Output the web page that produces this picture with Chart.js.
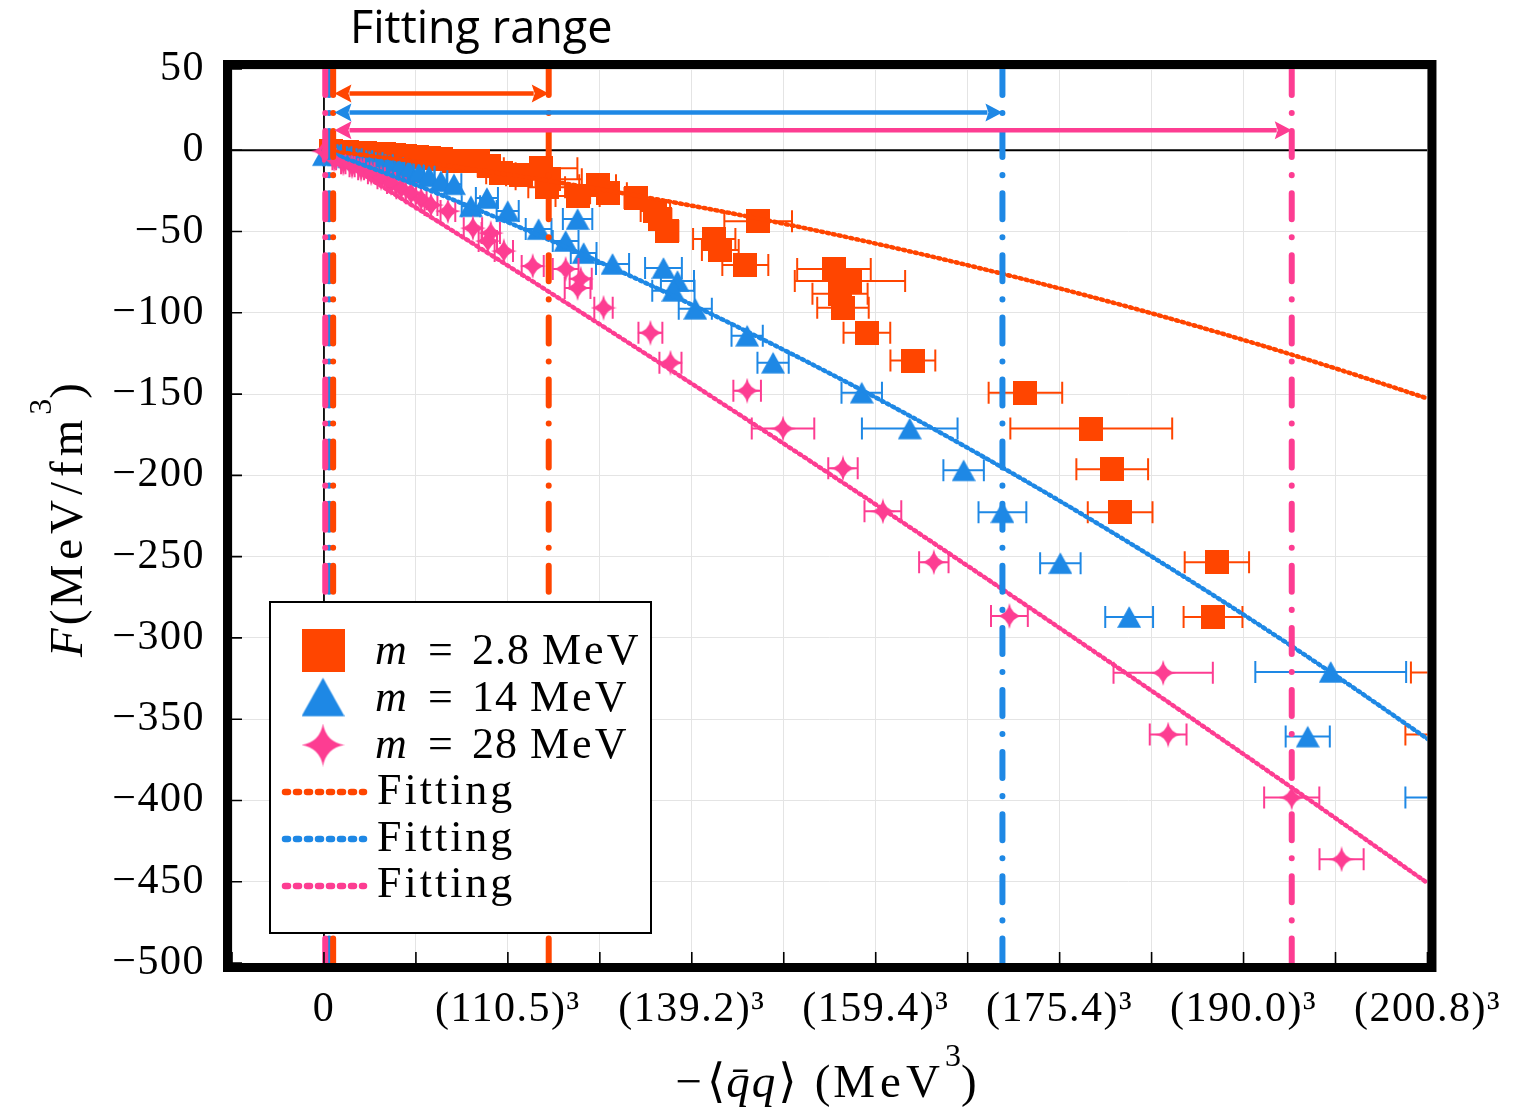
<!DOCTYPE html>
<html>
<head>
<meta charset="utf-8">
<title>F versus chiral condensate</title>
<script src="https://cdn.jsdelivr.net/npm/chart.js@4.4.1/dist/chart.umd.min.js"></script>
<style>
  html, body { margin: 0; padding: 0; background: #fff; }
  #wrap { width: 1517px; height: 1112px; position: relative; }
</style>
</head>
<body>
<div id="wrap"><canvas id="chart" width="1517" height="1112"></canvas></div>
<script>
// ---- axis labels -------------------------------------------------------
// x is measured in steps of the labelled condensate values (one step per label)
const xTickLabels = ['0', '(110.5)\u00B3', '(139.2)\u00B3', '(159.4)\u00B3', '(175.4)\u00B3', '(190.0)\u00B3', '(200.8)\u00B3'];
const seriesLabels = ['m = 2.8 MeV', 'm = 14 MeV', 'm = 28 MeV'];
const fitLabels = ['Fitting', 'Fitting', 'Fitting'];
const seriesColors = ['#ff4500', '#1e88e5', '#fd3d92'];

// ---- m = 2.8 MeV -------------------------------------------------------
const m2p8X = [0.040, 0.083, 0.126, 0.175, 0.224, 0.273, 0.327, 0.381, 0.441, 0.506, 0.571, 0.636, 0.707, 0.837, 0.896,
  0.962, 1.070, 1.178, 1.222, 1.211, 1.379, 1.488, 1.547, 1.694, 1.802, 1.829, 1.867, 2.122, 2.155, 2.291, 2.361,
  2.773, 2.860, 2.806, 2.822, 2.952, 3.202, 3.814, 4.172, 4.286, 4.329, 4.855, 4.834, 6.120, 6.100];
const m2p8Y = [-0.6, -1.2, -1.2, -1.8, -1.8, -2.5, -2.5, -3.1, -3.7, -4.3, -4.9, -5.5, -6.7, -6.7, -9.8,
  -14.1, -15.3, -11.0, -17.8, -22.7, -28.2, -21.5, -26.4, -29.4, -37.4, -42.3, -49.7, -54.6, -61.3, -70.6, -43.6,
  -73.0, -80.4, -88.3, -96.9, -112.3, -129.4, -149.1, -171.2, -196.3, -222.7, -253.4, -287.1, -321.3, -359.5];
const m2p8Err = [0.010, 0.010, 0.012, 0.014, 0.016, 0.018, 0.020, 0.022, 0.025, 0.030, 0.035, 0.040, 0.050, 0.060, 0.060,
  0.080, 0.080, 0.200, 0.180, 0.100, 0.120, 0.100, 0.100, 0.060, 0.080, 0.060, 0.060, 0.115, 0.100, 0.125, 0.184,
  0.200, 0.300, 0.150, 0.140, 0.127, 0.122, 0.200, 0.440, 0.195, 0.176, 0.175, 0.160, 0.210, 0.220];

// ---- m = 14 MeV --------------------------------------------------------
const m14X = [0.000, 0.083, 0.137, 0.191, 0.246, 0.300, 0.354, 0.408, 0.462, 0.516, 0.571, 0.636, 0.707, 0.799, 0.886,
  0.999, 1.167, 1.314, 1.379, 1.412, 1.569, 1.846, 1.922, 1.900, 2.019, 2.301, 2.442, 2.924, 3.185, 3.478, 3.689,
  4.004, 4.378, 5.474, 5.349, 6.200];
const m14Y = [-3.0, -3.1, -4.3, -5.5, -6.7, -8.0, -9.2, -11.0, -12.3, -14.1, -16.0, -19.0, -20.9, -34.4, -29.4,
  -37.4, -48.5, -55.8, -42.3, -63.2, -69.9, -72.4, -80.4, -86.5, -97.5, -114.1, -130.7, -149.1, -171.2, -196.9, -222.7,
  -254.0, -287.1, -320.9, -360.7, -398.2];
const m14Err = [0.005, 0.010, 0.012, 0.014, 0.016, 0.018, 0.020, 0.022, 0.025, 0.028, 0.030, 0.035, 0.040, 0.050, 0.060,
  0.060, 0.070, 0.070, 0.080, 0.070, 0.090, 0.100, 0.090, 0.115, 0.090, 0.085, 0.085, 0.110, 0.260, 0.110, 0.130,
  0.110, 0.130, 0.410, 0.120, 0.320];

// ---- m = 28 MeV --------------------------------------------------------
const m28X = [0.000, 0.056, 0.105, 0.153, 0.202, 0.257, 0.311, 0.365, 0.419, 0.473, 0.528, 0.582, 0.674, 0.810, 0.907,
  0.891, 0.978, 1.135, 1.314, 1.379, 1.396, 1.520, 1.775, 1.884, 2.301, 2.496, 2.822, 3.039, 3.316, 3.727, 4.563,
  4.590, 5.262, 5.533];
const m28Y = [-0.6, -5.5, -8.0, -9.8, -11.7, -14.1, -17.2, -20.2, -23.3, -26.4, -30.1, -33.7, -37.4, -47.9, -50.9,
  -55.8, -62.0, -71.2, -73.0, -84.7, -79.1, -96.9, -112.3, -130.7, -147.9, -171.2, -195.7, -222.1, -253.4, -286.5, -321.5,
  -359.5, -398.2, -436.2];
const m28Err = [0.005, 0.010, 0.012, 0.014, 0.016, 0.018, 0.020, 0.022, 0.025, 0.028, 0.030, 0.035, 0.040, 0.050, 0.050,
  0.050, 0.050, 0.060, 0.070, 0.070, 0.060, 0.050, 0.065, 0.060, 0.075, 0.170, 0.080, 0.100, 0.080, 0.100, 0.270,
  0.100, 0.150, 0.120];

// ---- fitted curves, sampled on the half-step grid ----------------------
const fitX = [0, 0.5, 1, 1.5, 2, 2.5, 3, 3.5, 4, 4.5, 5, 5.5, 6];
const fit2p8Y = [0, -6.9, -14.9, -24.0, -34.1, -45.2, -57.4, -70.7, -85.0, -100.3, -116.7, -134.2, -152.7];
const fit14Y = [0, -21.3, -44.3, -68.8, -95.0, -122.8, -152.1, -183.1, -215.7, -249.9, -285.7, -323.1, -362.1];
const fit28Y = [0, -35.3, -71.0, -107.1, -143.6, -180.5, -217.9, -255.7, -293.9, -332.5, -371.5, -410.9, -450.8];

// ---- fitting ranges (orange, blue, pink) -------------------------------
const rangeStart = [0.050, 0.028, 0.007];
const rangeEnd = [1.222, 3.689, 5.262];
const arrowStart = [0.057, 0.057, 0.057];
const arrowY = [35.0, 23.3, 12.3];

// ---- axis ranges -------------------------------------------------------
const xMin = -0.5, xMax = 6, yMin = -500, yMax = 50;

const SERIF = '"Liberation Serif", "DejaVu Serif", serif';

function markerCanvas(kind, size, color) {
  const c = document.createElement('canvas');
  c.width = size; c.height = size;
  const g = c.getContext('2d');
  const s = size, m = s / 2;
  g.fillStyle = color;
  g.beginPath();
  if (kind === 'rect') {
    g.rect(0, 0, s, s);
  } else if (kind === 'triangle') {
    const h = s * 0.9, top = (s - h) / 2;
    g.moveTo(m, top); g.lineTo(s, top + h); g.lineTo(0, top + h); g.closePath();
  } else {
    const k = s * 0.07;
    g.moveTo(m, 0);
    g.quadraticCurveTo(m + k, m - k, s, m);
    g.quadraticCurveTo(m + k, m + k, m, s);
    g.quadraticCurveTo(m - k, m + k, 0, m);
    g.quadraticCurveTo(m - k, m - k, m, 0);
    g.closePath();
  }
  g.fill();
  return c;
}

const series = [
  { label: seriesLabels[0], xs: m2p8X, ys: m2p8Y, err: m2p8Err, color: seriesColors[0], marker: 'rect', size: 24, order: 9 },
  { label: seriesLabels[1], xs: m14X, ys: m14Y, err: m14Err, color: seriesColors[1], marker: 'triangle', size: 24, order: 8 },
  { label: seriesLabels[2], xs: m28X, ys: m28Y, err: m28Err, color: seriesColors[2], marker: 'star', size: 26, order: 7 }
];
const fitYs = [fit2p8Y, fit14Y, fit28Y];
const vlineOrder = [2, 3, 1];

const datasets = [];
series.forEach(s => {
  datasets.push({
    type: 'scatter', label: s.label,
    data: s.xs.map((x, j) => ({ x: x, y: s.ys[j] })),
    pointStyle: markerCanvas(s.marker, s.size, s.color),
    pointRadius: 12, pointHoverRadius: 12,
    order: s.order, clip: 0,
    errX: s.err, barColor: s.color
  });
});
fitYs.forEach((ys, i) => {
  datasets.push({
    type: 'line', label: fitLabels[i],
    data: fitX.map((x, j) => ({ x: x, y: ys[j] })),
    borderColor: seriesColors[i], borderWidth: 4.5,
    borderDash: [2, 4], borderCapStyle: 'round',
    pointRadius: 0, showLine: true, fill: false,
    cubicInterpolationMode: 'monotone',
    order: 6 - i, clip: 0
  });
});
[rangeStart, rangeEnd].forEach(arr => {
  arr.forEach((v, i) => {
    datasets.push({
      type: 'line', label: 'range',
      data: [{ x: v, y: yMax }, { x: v, y: yMin }],
      borderColor: seriesColors[i], borderWidth: 6,
      borderDash: [26, 18, 0.1, 18], borderCapStyle: 'round',
      pointRadius: 0, showLine: true, fill: false,
      order: vlineOrder[i], clip: 0
    });
  });
});

function runsWidth(ctx, runs) {
  let w = 0;
  runs.forEach(r => {
    ctx.font = r.font; ctx.letterSpacing = r.ls || '0px';
    w += ctx.measureText(r.t).width + (r.gap || 0);
  });
  return w;
}
function drawRuns(ctx, runs, x, y) {
  runs.forEach(r => {
    ctx.font = r.font; ctx.letterSpacing = r.ls || '0px';
    ctx.fillText(r.t, x, y + (r.dy || 0));
    x += ctx.measureText(r.t).width + (r.gap || 0);
  });
}

const decor = {
  id: 'decor',
  beforeDraw(chart) {
    chart.ctx.letterSpacing = '1.5px';
  },
  beforeDatasetsDraw(chart) {
    const { ctx, chartArea: a, scales: { x, y } } = chart;
    ctx.save();
    ctx.beginPath(); ctx.rect(a.left, a.top, a.right - a.left, a.bottom - a.top); ctx.clip();
    ctx.strokeStyle = '#000'; ctx.lineWidth = 1.8;
    const y0 = y.getPixelForValue(0), x0 = x.getPixelForValue(0);
    ctx.beginPath();
    ctx.moveTo(a.left, y0); ctx.lineTo(a.right, y0);
    ctx.moveTo(x0, a.top); ctx.lineTo(x0, a.bottom);
    ctx.stroke();
    ctx.restore();
  },
  beforeDatasetDraw(chart, args) {
    const ds = chart.data.datasets[args.index];
    if (!ds.errX) return;
    const { ctx, chartArea: a, scales: { x, y } } = chart;
    ctx.save();
    ctx.beginPath(); ctx.rect(a.left, a.top, a.right - a.left, a.bottom - a.top); ctx.clip();
    ctx.strokeStyle = ds.barColor; ctx.lineWidth = 2; ctx.setLineDash([]);
    ds.data.forEach((p, j) => {
      const e = ds.errX[j];
      const py = y.getPixelForValue(p.y);
      const l = x.getPixelForValue(p.x - e), r = x.getPixelForValue(p.x + e);
      ctx.beginPath();
      ctx.moveTo(l, py); ctx.lineTo(r, py);
      ctx.moveTo(l, py - 11); ctx.lineTo(l, py + 11);
      ctx.moveTo(r, py - 11); ctx.lineTo(r, py + 11);
      ctx.stroke();
    });
    ctx.restore();
  },
  afterDatasetsDraw(chart) {
    const { ctx, chartArea: a, scales: { x, y } } = chart;
    ctx.save();
    ctx.beginPath(); ctx.rect(a.left, a.top, a.right - a.left, a.bottom - a.top); ctx.clip();
    const L = 17, hw = 9;
    arrowY.forEach((v, i) => {
      const py = y.getPixelForValue(v);
      const x1 = x.getPixelForValue(arrowStart[i]);
      const x2 = x.getPixelForValue(rangeEnd[i]);
      ctx.strokeStyle = seriesColors[i]; ctx.fillStyle = seriesColors[i];
      ctx.lineWidth = 4.5; ctx.setLineDash([]);
      ctx.beginPath(); ctx.moveTo(x1 + L - 2, py); ctx.lineTo(x2 - L + 2, py); ctx.stroke();
      ctx.beginPath(); ctx.moveTo(x1, py); ctx.lineTo(x1 + L, py - hw); ctx.lineTo(x1 + L - 3, py); ctx.lineTo(x1 + L, py + hw); ctx.closePath(); ctx.fill();
      ctx.beginPath(); ctx.moveTo(x2, py); ctx.lineTo(x2 - L, py - hw); ctx.lineTo(x2 - L + 3, py); ctx.lineTo(x2 - L, py + hw); ctx.closePath(); ctx.fill();
    });
    ctx.restore();
  },
  afterDraw(chart) {
    const { ctx, chartArea: a, scales: { x, y } } = chart;
    ctx.save();
    ctx.setLineDash([]);
    // inward tick marks
    ctx.strokeStyle = '#000'; ctx.lineWidth = 1.6;
    ctx.beginPath();
    x.ticks.forEach(t => {
      const px = x.getPixelForValue(t.value);
      ctx.moveTo(px, a.bottom); ctx.lineTo(px, a.bottom - 11);
    });
    y.ticks.forEach(t => {
      const py = y.getPixelForValue(t.value);
      ctx.moveTo(a.left, py); ctx.lineTo(a.left + 10, py);
    });
    ctx.stroke();
    // heavy frame
    ctx.lineWidth = 9;
    ctx.strokeRect(a.left - 4.5, a.top - 4.5, a.right - a.left + 9, a.bottom - a.top + 9);

    // legend
    const lx = 270, ly = 602, lw = 381, lh = 331;
    ctx.fillStyle = '#fff';
    ctx.fillRect(lx, ly, lw, lh);
    ctx.lineWidth = 2; ctx.strokeStyle = '#000';
    ctx.strokeRect(lx, ly, lw, lh);
    const rowMid = [650, 697, 745, 792, 839, 886];
    const rowBase = [664, 711, 758, 804, 851, 897];
    series.forEach((s, i) => {
      const mk = markerCanvas(s.marker, 43, s.color);
      ctx.drawImage(mk, 323 - mk.width / 2, rowMid[i] - mk.height / 2);
      const parts = s.label.split(' ');
      ctx.fillStyle = '#000';
      ctx.textBaseline = 'alphabetic'; ctx.textAlign = 'left';
      drawRuns(ctx, [{ t: parts[0], font: 'italic 44px ' + SERIF }], 375, rowBase[i]);
      drawRuns(ctx, [{ t: parts[1], font: '44px ' + SERIF }], 428, rowBase[i]);
      drawRuns(ctx, [{ t: parts[2], font: '44px ' + SERIF, ls: '1px', gap: 12 },
                     { t: parts[3], font: '44px ' + SERIF, ls: '3px' }], 472, rowBase[i]);
    });
    fitLabels.forEach((lab, i) => {
      const r = i + 3;
      ctx.strokeStyle = seriesColors[i]; ctx.lineWidth = 6.5; ctx.lineCap = 'round';
      ctx.setLineDash([3, 8]);
      ctx.beginPath(); ctx.moveTo(285, rowMid[r]); ctx.lineTo(364, rowMid[r]); ctx.stroke();
      ctx.setLineDash([]); ctx.lineCap = 'butt';
      ctx.fillStyle = '#000';
      drawRuns(ctx, [{ t: lab, font: '44px ' + SERIF, ls: '3px' }], 377, rowBase[r]);
    });

    // axis titles
    ctx.fillStyle = '#000';
    ctx.textAlign = 'left'; ctx.textBaseline = 'alphabetic';
    const R = '47px ' + SERIF, I = 'italic 47px ' + SERIF, S = '32px ' + SERIF;
    const xRuns = [
      { t: '\u2212', font: R, gap: 5 },
      { t: '\u27E8', font: R, gap: 1 },
      { t: 'q\u0304q', font: I, ls: '2px', gap: 1 },
      { t: '\u27E9', font: R, gap: 18 },
      { t: '(', font: R, gap: 3 },
      { t: 'MeV', font: R, ls: '5px' },
      { t: '3', font: S, dy: -31 },
      { t: ')', font: R }
    ];
    const xw = runsWidth(ctx, xRuns);
    drawRuns(ctx, xRuns, 826 - xw / 2, 1097);

    const yRuns = [
      { t: 'F', font: I, gap: 3 },
      { t: '(', font: R, gap: 3 },
      { t: 'MeV/fm', font: R, ls: '5px' },
      { t: '3', font: S, dy: -31 },
      { t: ')', font: R }
    ];
    const yw = runsWidth(ctx, yRuns);
    ctx.save();
    ctx.translate(82, 520 + yw / 2);
    ctx.rotate(-Math.PI / 2);
    drawRuns(ctx, yRuns, 0, 0);
    ctx.restore();

    // heading
    ctx.letterSpacing = '0px';
    ctx.font = '45px "Open Sans", "Noto Sans", sans-serif';
    ctx.fillText('Fitting range', 350, 43);
    ctx.restore();
  }
};

new Chart(document.getElementById('chart'), {
  type: 'scatter',
  data: { datasets: datasets },
  options: {
    responsive: false,
    animation: false,
    events: [],
    layout: { padding: { left: 0, right: 87, top: 69, bottom: 0 } },
    plugins: { legend: { display: false }, title: { display: false }, tooltip: { enabled: false } },
    scales: {
      x: {
        type: 'linear', min: xMin, max: xMax,
        border: { display: false },
        grid: { color: '#e4e4e4', lineWidth: 1, drawTicks: false },
        ticks: {
          stepSize: 0.5, autoSkip: false, maxRotation: 0, minRotation: 0,
          padding: 22, color: '#000',
          font: { family: SERIF, size: 42 },
          callback: v => {
            const k = Math.round(v * 2);
            return (k % 2 === 0 && k >= 0) ? xTickLabels[k / 2] : '';
          }
        },
        afterFit: s => { s.height = 149; }
      },
      y: {
        type: 'linear', min: yMin, max: yMax,
        border: { display: false },
        grid: { color: '#e4e4e4', lineWidth: 1, drawTicks: false },
        ticks: {
          stepSize: 50, padding: 27, color: '#000',
          font: { family: SERIF, size: 42 },
          callback: v => (v < 0 ? '\u2212' + Math.abs(v) : String(v))
        },
        afterFit: s => { s.width = 232; }
      }
    }
  },
  plugins: [decor]
});
</script>
</body>
</html>
